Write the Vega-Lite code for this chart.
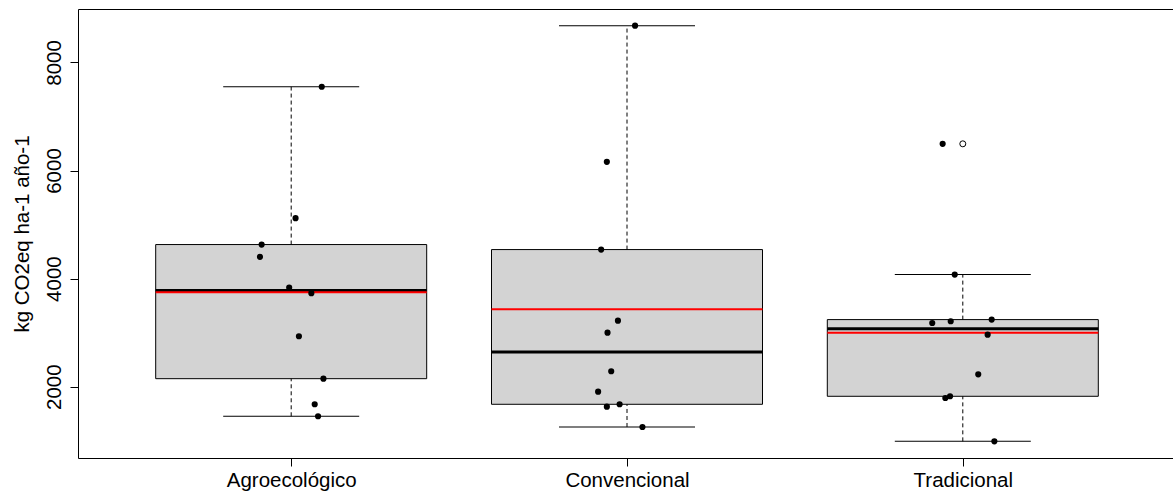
{
  "$schema": "https://vega.github.io/schema/vega-lite/v6.json",
  "width": 1098,
  "height": 449,
  "autosize": {"type": "none"},
  "padding": {"left": 78, "top": 9, "right": 0, "bottom": 35},
  "background": "white",
  "config": {
    "view": {"stroke": "black", "strokeWidth": 1},
    "font": "Liberation Sans",
    "axis": {"grid": false, "labelFont": "Liberation Sans", "titleFont": "Liberation Sans", "labelColor": "black", "titleColor": "black", "tickColor": "black", "domain": false, "tickSize": 8, "labelFontSize": 20.5, "titleFontSize": 20.5, "titleFontWeight": "normal"}
  },
  "datasets": {
    "pts": [
      {"grupo": "Agroecológico", "xj": 1.091, "v": 7550},
      {"grupo": "Agroecológico", "xj": 1.013, "v": 5119},
      {"grupo": "Agroecológico", "xj": 0.912, "v": 4630},
      {"grupo": "Agroecológico", "xj": 0.907, "v": 4402},
      {"grupo": "Agroecológico", "xj": 0.994, "v": 3833},
      {"grupo": "Agroecológico", "xj": 1.060, "v": 3730},
      {"grupo": "Agroecológico", "xj": 1.023, "v": 2933},
      {"grupo": "Agroecológico", "xj": 1.096, "v": 2148},
      {"grupo": "Agroecológico", "xj": 1.070, "v": 1674},
      {"grupo": "Agroecológico", "xj": 1.080, "v": 1452},
      {"grupo": "Convencional", "xj": 2.024, "v": 8680},
      {"grupo": "Convencional", "xj": 1.940, "v": 6161},
      {"grupo": "Convencional", "xj": 1.923, "v": 4537},
      {"grupo": "Convencional", "xj": 1.973, "v": 3222},
      {"grupo": "Convencional", "xj": 1.942, "v": 3000},
      {"grupo": "Convencional", "xj": 1.953, "v": 2285},
      {"grupo": "Convencional", "xj": 1.914, "v": 1907},
      {"grupo": "Convencional", "xj": 1.978, "v": 1674},
      {"grupo": "Convencional", "xj": 1.940, "v": 1630},
      {"grupo": "Convencional", "xj": 2.046, "v": 1254},
      {"grupo": "Tradicional", "xj": 2.940, "v": 6494},
      {"grupo": "Tradicional", "xj": 2.976, "v": 4074},
      {"grupo": "Tradicional", "xj": 3.086, "v": 3241},
      {"grupo": "Tradicional", "xj": 2.909, "v": 3179},
      {"grupo": "Tradicional", "xj": 2.964, "v": 3210},
      {"grupo": "Tradicional", "xj": 3.074, "v": 2963},
      {"grupo": "Tradicional", "xj": 3.046, "v": 2229},
      {"grupo": "Tradicional", "xj": 2.962, "v": 1822},
      {"grupo": "Tradicional", "xj": 2.948, "v": 1790},
      {"grupo": "Tradicional", "xj": 3.094, "v": 988}
    ],
    "box": [
      {"grupo": "Agroecológico", "g": 1, "lo": 1452, "q1": 2148, "med": 3781, "q3": 4630, "hi": 7550, "mean": 3747},
      {"grupo": "Convencional", "g": 2, "lo": 1254, "q1": 1674, "med": 2642, "q3": 4537, "hi": 8680, "mean": 3435},
      {"grupo": "Tradicional", "g": 3, "lo": 988, "q1": 1822, "med": 3071, "q3": 3241, "hi": 4074, "mean": 2999}
    ],
    "outliers": [
      {"grupo": "Tradicional", "g": 3, "v": 6494}
    ]
  },
  "layer": [
    {
      "data": {"name": "box"},
      "mark": {"type": "bar", "orient": "vertical", "width": 271, "fill": "#d3d3d3", "stroke": "black", "strokeWidth": 1},
      "encoding": {
        "x": {"field": "g", "type": "quantitative", "scale": {"domain": [0.38, 3.62], "nice": false, "zero": false},
          "axis": {"values": [1, 2, 3], "title": null, "labelExpr": "['', 'Agroecológico', 'Convencional', 'Tradicional'][datum.value]", "labelPadding": 4}},
        "y": {"field": "q1", "type": "quantitative", "scale": {"domain": [680, 8989], "nice": false, "zero": false},
          "axis": {"values": [2000, 4000, 6000, 8000], "format": "d", "title": "kg CO2eq ha-1 año-1", "labelAngle": 270, "labelAlign": "center", "labelBaseline": "alphabetic", "labelPadding": 10, "titlePadding": 12}},
        "y2": {"field": "q3"}
      }
    },
    {
      "data": {"name": "box"},
      "mark": {"type": "rule", "color": "black", "strokeWidth": 1, "strokeDash": [4, 3]},
      "encoding": {
        "x": {"field": "g", "type": "quantitative"},
        "y": {"field": "lo", "type": "quantitative"},
        "y2": {"field": "q1"}
      }
    },
    {
      "data": {"name": "box"},
      "mark": {"type": "rule", "color": "black", "strokeWidth": 1, "strokeDash": [4, 3]},
      "encoding": {
        "x": {"field": "g", "type": "quantitative"},
        "y": {"field": "q3", "type": "quantitative"},
        "y2": {"field": "hi"}
      }
    },
    {
      "data": {"name": "box"},
      "mark": {"type": "tick", "orient": "horizontal", "size": 136, "thickness": 1, "color": "black", "opacity": 1},
      "encoding": {
        "x": {"field": "g", "type": "quantitative"},
        "y": {"field": "lo", "type": "quantitative"}
      }
    },
    {
      "data": {"name": "box"},
      "mark": {"type": "tick", "orient": "horizontal", "size": 136, "thickness": 1, "color": "black", "opacity": 1},
      "encoding": {
        "x": {"field": "g", "type": "quantitative"},
        "y": {"field": "hi", "type": "quantitative"}
      }
    },
    {
      "data": {"name": "box"},
      "mark": {"type": "tick", "orient": "horizontal", "size": 271, "thickness": 3, "color": "black", "opacity": 1},
      "encoding": {
        "x": {"field": "g", "type": "quantitative"},
        "y": {"field": "med", "type": "quantitative"}
      }
    },
    {
      "data": {"name": "outliers"},
      "mark": {"type": "point", "shape": "circle", "size": 36, "filled": false, "fill": "white", "stroke": "black", "strokeWidth": 1, "opacity": 1},
      "encoding": {
        "x": {"field": "g", "type": "quantitative"},
        "y": {"field": "v", "type": "quantitative"}
      }
    },
    {
      "data": {"name": "box"},
      "mark": {"type": "tick", "orient": "horizontal", "size": 271, "thickness": 2, "color": "#ff0000", "opacity": 1},
      "encoding": {
        "x": {"field": "g", "type": "quantitative"},
        "y": {"field": "mean", "type": "quantitative"}
      }
    },
    {
      "data": {"name": "pts"},
      "mark": {"type": "circle", "size": 38, "color": "black", "opacity": 1},
      "encoding": {
        "x": {"field": "xj", "type": "quantitative"},
        "y": {"field": "v", "type": "quantitative"}
      }
    }
  ]
}
